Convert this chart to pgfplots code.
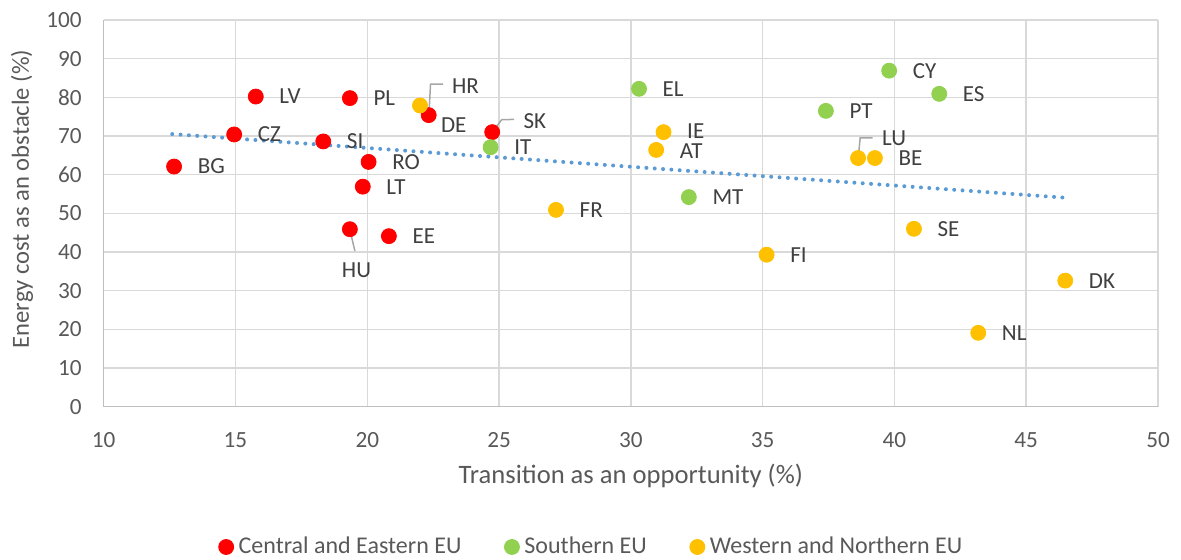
\documentclass[border=0pt]{standalone}
\usepackage{pgfplots}
\pgfplotsset{compat=1.18}
\usepackage{pgfplotstable}
\usepackage{fontspec}
\setmainfont{Carlito}
\definecolor{cred}{HTML}{FF0000}
\definecolor{cgreen}{HTML}{92D050}
\definecolor{cyellow}{HTML}{FFC000}
\definecolor{trend}{HTML}{5B9BD5}
\definecolor{gridc}{HTML}{D9D9D9}
\definecolor{axc}{HTML}{BFBFBF}
\definecolor{tickc}{HTML}{595959}
\definecolor{labc}{HTML}{404040}
\definecolor{leadc}{HTML}{A6A6A6}

\pgfplotstableread{
x y lab dx dy
12.67 62.1 BG 11.65 0
14.95 70.4 CZ 11.65 0
15.77 80.2 LV 11.65 0
19.34 79.8 PL 11.65 0
18.33 68.6 SI 11.65 0
20.05 63.3 RO 11.65 0
19.83 56.9 LT 11.65 0
22.33 75.4 DE 6.0 -4.85
19.34 45.9 HU -4.15 -20.35
20.82 44.1 EE 11.65 0
24.74 71.0 SK 15.5 5.65
}\ce
\pgfplotstableread{
x y lab dx dy
30.31 82.2 EL 11.65 0
24.68 67.1 IT 11.65 0
32.20 54.2 MT 11.65 0
39.80 86.9 CY 11.65 0
41.70 80.9 ES 11.65 0
37.40 76.5 PT 11.65 0
}\south
\pgfplotstableread{
x y lab dx dy
22.00 77.9 HR 15.85 9.65
31.24 71.0 IE 11.65 0.6
30.96 66.4 AT 11.65 -0.6
27.16 50.9 FR 11.65 0
38.62 64.3 LU 11.85 9.85
39.26 64.3 BE 11.65 0
40.74 46.0 SE 11.65 0
35.15 39.3 FI 11.65 0
46.48 32.6 DK 11.65 0
43.18 19.1 NL 11.65 0
}\west

\pgfplotsset{
  lab/.style={only marks, mark=*, mark size=3.75pt,
    color=#1, mark options={fill=#1, draw=#1},
    nodes near coords, point meta=explicit symbolic,
    visualization depends on={\thisrow{dx} \as \dx},
    visualization depends on={\thisrow{dy} \as \dy},
    nodes near coords style={anchor=west, inner sep=0pt,
      xshift=\dx, yshift=\dy, text=labc,
      font=\fontsize{11.5}{13}\selectfont}},
}

\begin{document}
\begin{tikzpicture}
\useasboundingbox (-51.85pt,-76.65pt) rectangle (538.65pt,203.35pt);
\begin{axis}[
  at={(0pt,0pt)}, anchor=south west,
  scale only axis, width=527.15pt, height=193.35pt,
  xmin=10, xmax=50, ymin=0, ymax=100,
  xtick={10,15,...,50}, ytick={0,10,...,100},
  grid=major, major grid style={gridc, line width=0.75pt},
  axis x line*=bottom, axis y line*=left,
  axis line style={axc, line width=0.75pt, -},
  major tick length=0pt,
  /pgf/number format/assume math mode=true,
  tick label style={font=\fontsize{11.6}{13}\selectfont, text=tickc},
  xticklabel style={anchor=center, yshift=-16.65pt},
  yticklabel style={anchor=east, inner sep=0pt, xshift=-10.85pt},
  xlabel={Transition as an opportunity (\%)},
  ylabel={Energy cost as an obstacle (\%)},
  label style={text=tickc},
  xlabel style={at={(axis description cs:0.5,-0.1792)}, anchor=center,
    font=\fontsize{13.3}{15}\selectfont},
  ylabel style={at={(axis description cs:-0.0775,0.537)}, anchor=center,
    font=\fontsize{12.3}{14}\selectfont},
  legend columns=3,
  legend style={at={(axis description cs:0.4617,-0.3628)}, anchor=center,
    draw=none, fill=none, font=\fontsize{12}{14}\selectfont, text=tickc,
    /tikz/every odd column/.append style={column sep=2.5pt},
    /tikz/every even column/.append style={column sep=21.5pt},
    nodes={inner sep=0pt}},
  legend image code/.code={\draw[#1] plot coordinates {(0pt,0pt)};},
]
\addplot[lab=cred] table[x=x, y=y, meta=lab] {\ce};
\addlegendentry{Central and Eastern EU}
\addplot[lab=cgreen] table[x=x, y=y, meta=lab] {\south};
\addlegendentry{Southern EU}
\addplot[lab=cyellow] table[x=x, y=y, meta=lab] {\west};
\addlegendentry{Western and Northern EU}
\addplot[trend, line width=2pt, dash pattern=on 0pt off 4.17pt, line cap=round, forget plot]
  coordinates {(12.6,70.5) (46.47,54.05)};
\draw[leadc, line width=0.75pt] (axis cs:22.34,75.7) -- (axis cs:22.4,83.4) -- (axis cs:22.88,83.4);
\draw[leadc, line width=0.75pt] (axis cs:24.78,71.4) -- (axis cs:25.1,74.2) -- (axis cs:25.57,74.3);
\draw[leadc, line width=0.75pt] (axis cs:38.63,64.6) -- (axis cs:38.7,69.5) -- (axis cs:39.17,69.5);
\draw[leadc, line width=0.75pt] (axis cs:19.34,45.7) -- (axis cs:19.53,40.3);
\end{axis}
\end{tikzpicture}
\end{document}
